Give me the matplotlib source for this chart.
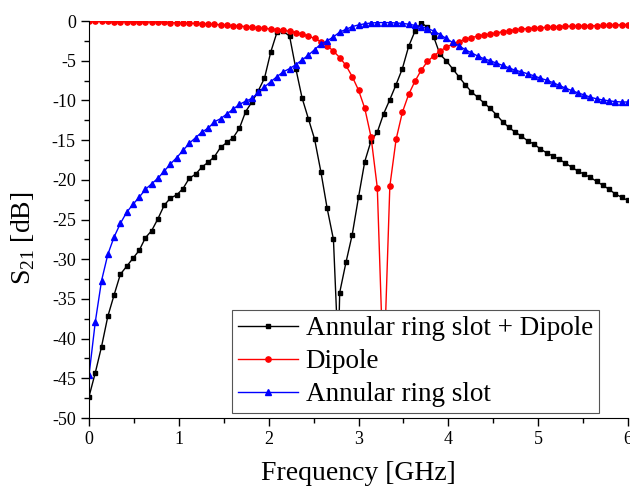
import numpy as np
import matplotlib.pyplot as plt

plt.rcParams['font.family'] = 'Liberation Serif'
plt.rcParams['mathtext.fontset'] = 'custom'
plt.rcParams['mathtext.rm'] = 'Liberation Serif'
plt.rcParams['axes.unicode_minus'] = False

# frequency grid [GHz]
freq = np.linspace(0, 6, 87)

# S21 [dB] - annular ring slot + dipole
combo = [-47.3, -44.3, -41.0, -37.2, -34.5, -31.9, -30.9, -29.9, -28.9, -27.3,
         -26.4, -24.9, -23.2, -22.3, -21.9, -21.1, -19.8, -19.3, -18.4, -17.8,
         -17.1, -15.9, -15.3, -14.7, -13.5, -11.4, -10.2, -8.8, -7.2, -3.9,
         -1.4, -1.3, -1.9, -6.0, -9.7, -12.3, -14.9, -19.0, -23.6, -27.5,
         -34.2, -30.4, -26.9, -22.2, -17.7, -15.1, -14.0, -11.7, -9.9, -8.0,
         -6.0, -3.2, -1.3, -0.2, -0.8, -2.0, -4.2, -5.0, -6.0, -7.0,
         -8.0, -8.9, -9.6, -10.3, -11.0, -11.8, -12.7, -13.4, -14.0, -14.5,
         -15.1, -15.5, -16.1, -16.6, -17.0, -17.4, -17.9, -18.4, -18.9, -19.3,
         -19.7, -20.2, -20.7, -21.2, -21.8, -22.2, -22.6]
# notch of the combined structure (between grid points)
combo_notch_f = 2.775
combo_notch = -42.0

# S21 [dB] - dipole alone
dipole = [-0.05, -0.05, -0.05, -0.06, -0.07, -0.08, -0.09, -0.10, -0.11, -0.12,
          -0.14, -0.16, -0.18, -0.20, -0.22, -0.25, -0.28, -0.31, -0.34, -0.38,
          -0.42, -0.47, -0.52, -0.58, -0.64, -0.70, -0.77, -0.85, -0.93, -1.00,
          -1.08, -1.15, -1.30, -1.45, -1.65, -1.90, -2.20, -2.60, -3.10, -3.80,
          -4.60, -5.60, -7.00, -8.70, -11.0, -14.6, -21.0, -45.0, -20.8, -14.9,
          -11.5, -9.25, -7.6, -6.2, -5.1, -4.4, -3.8, -3.3, -2.9, -2.6,
          -2.3, -2.1, -1.9, -1.75, -1.65, -1.5, -1.35, -1.25, -1.1, -1.0,
          -0.95, -0.9, -0.85, -0.8, -0.75, -0.7, -0.67, -0.64, -0.62, -0.6,
          -0.6, -0.58, -0.56, -0.53, -0.5, -0.47, -0.45]

# S21 [dB] - annular ring slot alone
ring = [-44.6, -37.9, -32.7, -29.4, -27.2, -25.5, -24.1, -23.1, -22.2, -21.2,
        -20.5, -19.8, -18.9, -18.0, -17.2, -16.3, -15.4, -14.7, -14.0, -13.5,
        -12.7, -12.3, -11.7, -11.1, -10.5, -10.1, -9.75, -9.0, -8.3, -7.65,
        -7.0, -6.4, -6.0, -5.5, -4.9, -4.3, -3.6, -2.9, -2.5, -2.0,
        -1.4, -1.05, -0.7, -0.5, -0.35, -0.25, -0.2, -0.2, -0.2, -0.25,
        -0.3, -0.4, -0.55, -0.7, -0.95, -1.25, -1.7, -2.2, -2.7, -3.1,
        -3.6, -4.0, -4.4, -4.75, -5.0, -5.3, -5.6, -5.9, -6.2, -6.4,
        -6.65, -6.9, -7.2, -7.45, -7.75, -8.1, -8.45, -8.75, -9.05, -9.3,
        -9.6, -9.8, -9.95, -10.05, -10.15, -10.2, -10.2]

labels = ['Annular ring slot + Dipole', 'Dipole', 'Annular ring slot']

fig = plt.figure(figsize=(6.3, 4.93), dpi=100)
ax = fig.add_axes([0.1413, 0.1521, 0.8555, 0.8053])

# put the notch point into the combined trace, without a marker
k = int(np.searchsorted(freq, combo_notch_f))
f_c = np.insert(freq, k, combo_notch_f)
s_c = np.insert(np.array(combo), k, combo_notch)
marks = [i for i in range(len(f_c)) if i != k]

ax.plot(f_c, s_c, color='black', lw=1.0, marker='s', ms=3.5,
        markevery=marks, label=labels[0])
ax.plot(freq, dipole, color='red', lw=1.0, marker='o', ms=3.8, label=labels[1])
ax.plot(freq, ring, color='blue', lw=1.0, marker='^', ms=4.5, label=labels[2])

ax.set_xlim(0, 6)
ax.set_ylim(-50, 0)
ax.set_xticks(np.arange(0, 7, 1))
ax.set_xticks(np.arange(0.5, 6, 1), minor=True)
ax.set_yticks(np.arange(-50, 1, 5))
ax.set_yticks(np.arange(-47.5, 0, 5), minor=True)
ax.tick_params(which='major', direction='out', length=6, width=1, labelsize=13)
ax.tick_params(which='minor', direction='out', length=3.5, width=1)
ax.spines['top'].set_visible(False)
ax.spines['right'].set_visible(False)

ax.set_xlabel('Frequency [GHz]', fontsize=20, labelpad=9)
ax.set_ylabel(r'S$_\mathrm{21}$ [dB]', fontsize=20)
ax.yaxis.set_label_coords(-0.097, 0.452)

leg = ax.legend(loc='lower left', bbox_to_anchor=(0.2653, 0.0118),
                borderaxespad=0, fontsize=19.5, frameon=True, fancybox=False,
                framealpha=1, edgecolor='#555555', handlelength=2.2,
                handletextpad=0.3, labelspacing=0.3, borderpad=0.22)
leg.get_frame().set_linewidth(0.8)

fig.savefig('out.png', dpi=100)
